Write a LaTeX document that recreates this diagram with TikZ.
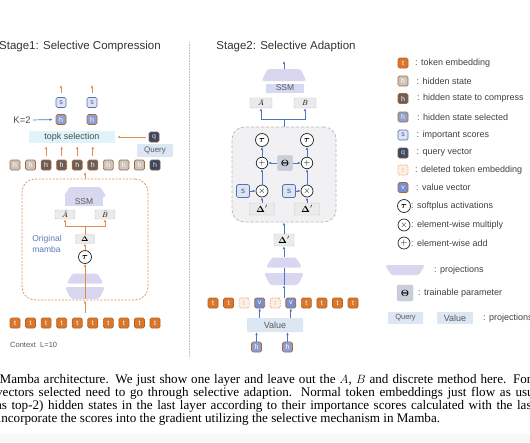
\documentclass[tikz,border=0pt]{standalone}
\usepackage{bm}
\usepackage[no-math]{fontspec}
\setmainfont{Liberation Sans}
\newfontfamily\capfont{Liberation Serif}
\usetikzlibrary{arrows.meta}
\newcommand\fsz[1]{\fontsize{#1}{#1}\selectfont}
\definecolor{tokfill}{HTML}{D9772F}
\definecolor{tokline}{HTML}{B8611F}
\definecolor{hsfill}{HTML}{CBC4BE}
\definecolor{hline}{HTML}{A8693A}
\definecolor{hcfill}{HTML}{6C5E56}
\definecolor{selfill}{HTML}{8E9FD2}
\definecolor{scfill}{HTML}{DCE3F4}
\definecolor{scline}{HTML}{5B70AA}
\definecolor{qfill}{HTML}{3C465F}
\definecolor{delfill}{HTML}{FCF0E6}
\definecolor{delline}{HTML}{E6A77A}
\definecolor{vfill}{HTML}{7A8ECF}
\definecolor{lav}{HTML}{D9D7F0}
\definecolor{ssmfill}{HTML}{D5D9F1}
\definecolor{topkfill}{HTML}{DEF3FA}
\definecolor{projfill}{HTML}{DDE7F4}
\definecolor{oarrow}{HTML}{E38B4F}
\definecolor{barrow}{HTML}{4F74C4}
\definecolor{thfill}{HTML}{C9CEDB}
\definecolor{boxgray}{HTML}{F1F1F3}
\definecolor{origblue}{HTML}{5A7AB8}
\definecolor{sepline}{HTML}{A9BED8}
\tikzset{
  tokcell/.style={rounded corners=1.5pt, minimum size=10pt, inner sep=0pt, line width=0.7pt, text=white, font=\fsz{7}},
  tok/.style={tokcell, draw=tokline, fill=tokfill},
  hstate/.style={tokcell, draw=hline, fill=hsfill},
  hcomp/.style={tokcell, draw=hline, fill=hcfill},
  hsel/.style={tokcell, draw=hline, fill=selfill},
  score/.style={tokcell, draw=scline, fill=scfill, text=scline!80!black},
  qvec/.style={tokcell, draw=hline!60!qfill, fill=qfill, text=white!85!qfill},
  deltok/.style={tokcell, draw=delline, fill=delfill, dash pattern=on 1.5pt off 1pt, text=delline!70},
  vvec/.style={tokcell, draw=hline, fill=vfill},
  op/.style={circle, draw=black!85, fill=white, inner sep=0pt, line width=0.7pt, minimum size=12pt, font=\fsz{9}},
  gbox/.style={fill=black!8, draw=black!22, rounded corners=1pt, inner sep=0pt, minimum height=9pt, minimum width=20pt, font=\fsz{7}},
  thbox/.style={fill=thfill, draw=black!25, rounded corners=2pt, inner sep=0pt, minimum size=15pt, font=\fsz{9}},
  proj/.style={rectangle, inner sep=0pt, minimum height=10pt, minimum width=42pt,
    path picture={\fill[lav, rounded corners=2.5pt]
      (path picture bounding box.south west) -- ([xshift=6pt]path picture bounding box.north west)
      -- ([xshift=-6pt]path picture bounding box.north east) -- (path picture bounding box.south east) -- cycle;}},
  projdn/.style={rectangle, inner sep=0pt, minimum height=10pt, minimum width=42pt,
    path picture={\fill[lav, rounded corners=2.5pt]
      (path picture bounding box.north west) -- ([xshift=6pt]path picture bounding box.south west)
      -- ([xshift=-6pt]path picture bounding box.south east) -- (path picture bounding box.north east) -- cycle;}},
  ssm/.style={fill=ssmfill, minimum width=38pt, minimum height=9pt, inner sep=0pt, font=\fsz{8.5}, text=black!65},
  pbox/.style={fill=projfill, rounded corners=1pt, inner sep=0pt, minimum height=13pt, font=\fsz{8}, text=black!65},
  oline/.style={draw=oarrow, line width=0.7pt},
  bline/.style={draw=barrow, line width=0.7pt},
  oarr/.style={oline, -{Latex[length=3pt,width=2.6pt]}},
  barr/.style={bline, -{Latex[length=3pt,width=2.6pt]}},
  legtxt/.style={anchor=west, font=\fsz{9}, text=black!75, inner sep=0pt},
  capline/.style={anchor=base west, font=\capfont\fsz{13.1}, inner sep=0pt}
}
\begin{document}
\begin{tikzpicture}[x=1pt, y=-1pt]
\useasboundingbox (0,0) rectangle (530,442);
\clip (0,0) rectangle (530,442);
\fill[black!3] (0,434) rectangle (530,442);

% stage 1
\node[font=\fsz{11.5}, text=black!80, anchor=west, inner sep=0pt] (title1) at (-1,47) {Stage1: Selective Compression};
\node[draw=oarrow, dash pattern=on 2pt off 1.5pt, line width=0.7pt, rounded corners=13pt, minimum width=126pt, minimum height=121pt] (mamba) at (85,239.5) {};
\node[proj, minimum width=43pt] (p1top) at (85,192) {};
\node[ssm] (ssm1) at (84,201.5) {SSM};
\node[gbox] (abar1) at (65,214.5) {\(\bar{A}\)};
\node[gbox] (bbar1) at (105,214.5) {\(\bar{B}\)};
\node[gbox, minimum width=19pt, minimum height=8.5pt] (delta1) at (85,239) {\(\mathbf{\Delta}\)};
\node[op, minimum size=13pt] (tau1) at (85,257) {\(\bm{\tau}\)};
\node[proj, minimum width=37pt] (p1up) at (85,278.5) {};
\node[projdn, minimum width=40pt, minimum height=12pt] (p1lo) at (85,293) {};
\node[font=\fontsize{8.5}{10.5}\selectfont, text=origblue, align=left, inner sep=0pt] (orig) at (47,244) {Original\\mamba};
\draw[oarr] (p1lo.south) -- (tau1.south);
\draw[oarr] (tau1.north) -- (delta1.south);
\draw[oline] (delta1.north) -- ++(0,-8) coordinate (br1);
\draw[oarr] (br1) -| (abar1.south);
\draw[oarr] (br1) -| (bbar1.south);
\coordinate (c1in) at (85,313);
\draw[oarr] (c1in) -- (mamba.south);
\coordinate (c1out) at (85,172);
\draw[oarr] (mamba.north) -- (c1out);

\foreach \i in {0,...,9}
  \node[tok] (ta\i) at ({15+15.56*\i},323) {t};
\foreach \k [count=\i from 0] in {hstate,hstate,hcomp,hcomp,hcomp,hcomp,hstate,hstate,hstate,qvec}
  \node[\k] (h\i) at ({15+15.56*\i},165) {h};
\node[font=\fsz{7.5}, text=black!65, anchor=west, inner sep=0pt] (ctx) at (10,345) {Context\ \ L=10};

\node[fill=topkfill, minimum width=86pt, minimum height=12pt, inner sep=0pt, font=\fsz{9}, text=black!70] (topk) at (72,137) {topk selection};
\node[qvec] (qv) at (154,137) {q};
\node[pbox, minimum width=36pt] (query) at (155,150.5) {Query};
\draw[oarr, shorten <=3pt, shorten >=2pt] (qv.west) -- (topk.east);
\foreach \i in {2,...,5}
  \draw[oarr, shorten <=4pt, shorten >=3pt] (h\i.north) -- (h\i.north |- topk.south);
\node[hsel] (sel1) at (61,119.5) {h};
\node[hsel] (sel2) at (92,119.5) {h};
\node[score] (sc1) at (61,102.5) {s};
\node[score] (sc2) at (92,102.5) {s};
\coordinate (o1) at (61,85);
\coordinate (o2) at (92,85);
\draw[oarr, shorten <=4pt] (sc1.north) -- (o1);
\draw[oarr, shorten <=4pt] (sc2.north) -- (o2);
\node[font=\fsz{9.5}, text=black!70, inner sep=0pt] (kk) at (22,120) {K=2};
\draw[barr, shorten <=2pt, shorten >=3pt] (kk.east) -- (sel1.west);

% separator
\coordinate (sepa) at (189,42);
\coordinate (sepb) at (189,356);
\draw[sepline, densely dotted, line width=0.6pt] (sepa) -- (sepb);

% stage 2
\node[font=\fsz{11.5}, text=black!80, inner sep=0pt] (title2) at (286,47) {Stage2: Selective Adaption};
\node[fill=boxgray, draw=black!28, dash pattern=on 3pt off 2pt, line width=0.7pt, rounded corners=12pt, minimum width=104pt, minimum height=95pt] (adapt) at (284,174.5) {};
\node[proj, minimum width=45pt, minimum height=12pt] (p2top) at (284,75) {};
\node[ssm] (ssm2) at (285,88) {SSM};
\node[gbox, minimum width=22pt, minimum height=10pt] (abar2) at (261,103) {\(\bar{A}\)};
\node[gbox, minimum width=22pt, minimum height=10pt] (bbar2) at (305,103) {\(\bar{B}\)};
\node[op, minimum size=13pt] (tauL) at (262,140) {\(\bm{\tau}\)};
\node[op, minimum size=13pt] (tauR) at (307,140) {\(\bm{\tau}\)};
\node[op, minimum size=11.5pt] (plusL) at (262,163) {\(+\)};
\node[op, minimum size=11.5pt] (plusR) at (307,163) {\(+\)};
\node[thbox] (theta) at (285,163) {\(\bm{\Theta}\)};
\node[op, minimum size=12pt] (timesL) at (262,191) {\(\times\)};
\node[op, minimum size=12pt] (timesR) at (307,191) {\(\times\)};
\node[score, minimum size=13pt, font=\fsz{8}] (sL) at (243,191) {s};
\node[score, minimum size=13pt, font=\fsz{8}] (sR) at (289,191) {s};
\node[gbox, minimum width=25pt, minimum height=12pt, font=\fsz{9}] (dpL) at (262,209) {\(\mathbf{\Delta}'\)};
\node[gbox, minimum width=25pt, minimum height=12pt, font=\fsz{9}] (dpR) at (307,209) {\(\mathbf{\Delta}'\)};
\node[gbox, minimum width=20pt, minimum height=12pt, font=\fsz{9}] (dpM) at (284,240) {\(\mathbf{\Delta}'\)};
\node[proj, minimum width=36pt] (p2up) at (284,262.5) {};
\node[projdn, minimum width=40pt, minimum height=12pt] (p2lo) at (284,279) {};
\coordinate (c2out) at (284,61);
\draw[barr] (p2top.north) -- (c2out);
\draw[bline] (adapt.north) -- ++(0,-7) coordinate (br2);
\draw[barr] (br2) -| (abar2.south);
\draw[barr] (br2) -| (bbar2.south);
\draw[barr] (plusL.north) -- (tauL.south);
\draw[barr] (plusR.north) -- (tauR.south);
\draw[barr] (theta.west) -- (plusL.east);
\draw[barr] (theta.east) -- (plusR.west);
\draw[barr] (timesL.north) -- (plusL.south);
\draw[barr] (timesR.north) -- (plusR.south);
\draw[barr] (sL.east) -- (timesL.west);
\draw[barr] (sR.east) -- (timesR.west);
\draw[barr] (dpL.north) -- (timesL.south);
\draw[barr] (dpR.north) -- (timesR.south);
\draw[barr] (dpM.north) -- (adapt.south);
\draw[barr] (p2up.north) -- (dpM.south);
\draw[bline] (p2lo.south) -- (p2up.south);
\coordinate (c2in) at (284,297.5);
\draw[barr] (c2in) -- (p2lo.south);

\foreach \k/\l [count=\i from 0] in {tok/t,tok/t,deltok/t,vvec/v,deltok/t,vvec/v,tok/t,tok/t,tok/t,tok/t}
  \node[\k] (tb\i) at ({213+15.56*\i},303) {\l};
\node[pbox, minimum width=56pt, minimum height=14pt, font=\fsz{9}] (value) at (275,325) {Value};
\node[hsel] (hv1) at (256.5,347) {h};
\node[hsel] (hv2) at (287.5,347) {h};
\draw[barr] (value.north -| tb3) -- (tb3.south);
\draw[barr] (value.north -| tb5) -- (tb5.south);
\draw[barr] (hv1.north) -- (hv1.north |- value.south);
\draw[barr] (hv2.north) -- (hv2.north |- value.south);

% legend
\node[tok] (lg1) at (403,63) {t};
\node[legtxt] (lt1) at (415,63) {: token embedding};
\node[hstate] (lg2) at (403,81) {h};
\node[legtxt] (lt2) at (416.5,81) {: hidden state};
\node[hcomp] (lg3) at (403,98.5) {h};
\node[legtxt] (lt3) at (417,98.5) {: hidden state to compress};
\node[hsel] (lg4) at (403,117) {h};
\node[legtxt] (lt4) at (417,117) {: hidden state selected};
\node[score] (lg5) at (403,135) {s};
\node[legtxt] (lt5) at (416.5,135) {: important scores};
\node[qvec] (lg6) at (403,153) {q};
\node[legtxt] (lt6) at (416.5,153) {: query vector};
\node[deltok] (lg7) at (403,170) {t};
\node[legtxt] (lt7) at (415,170) {: deleted token embedding};
\node[vvec] (lg8) at (403,187.5) {v};
\node[legtxt] (lt8) at (416,187.5) {: value vector};
\node[op, minimum size=13pt] (lg9) at (404,206) {\(\bm{\tau}\)};
\node[legtxt] (lt9) at (411,206) {: softplus activations};
\node[op] (lg10) at (404,225) {\(\times\)};
\node[legtxt] (lt10) at (411,225) {: element-wise multiply};
\node[op] (lg11) at (404,243) {\(+\)};
\node[legtxt] (lt11) at (411,243) {: element-wise add};
\node[projdn, minimum width=40pt] (lg12) at (405,270) {};
\node[legtxt] (lt12) at (434,270.5) {: projections};
\node[thbox, minimum size=16pt] (lg13) at (405,293) {\(\bm{\Theta}\)};
\node[legtxt] (lt13) at (418,293) {: trainable parameter};
\node[pbox, minimum width=35pt, minimum height=12pt, font=\fsz{7.5}] (lg14) at (405.5,318) {Query};
\node[pbox, minimum width=36pt, minimum height=12pt, font=\fsz{9}] (lg15) at (455,318) {Value};
\node[legtxt] (lt15) at (483,318) {: projections};

% caption
\node[capline] (cap1) at (-0.5,383.3) {\makebox[531.5pt][s]{Mamba architecture. We just show one layer and leave out the \(A\), \(B\) and discrete method here. For}};
\node[capline] (cap2) at (-4,396.4) {\makebox[547pt][s]{vectors selected need to go through selective adaption. Normal token embeddings just flow as usual}};
\node[capline] (cap3) at (-8.5,409.5) {\makebox[543.5pt][s]{(as top-2) hidden states in the last layer according to their importance scores calculated with the last}};
\node[capline] (cap4) at (-2.5,422.7) {incorporate the scores into the gradient utilizing the selective mechanism in Mamba.};
\end{tikzpicture}
\end{document}
